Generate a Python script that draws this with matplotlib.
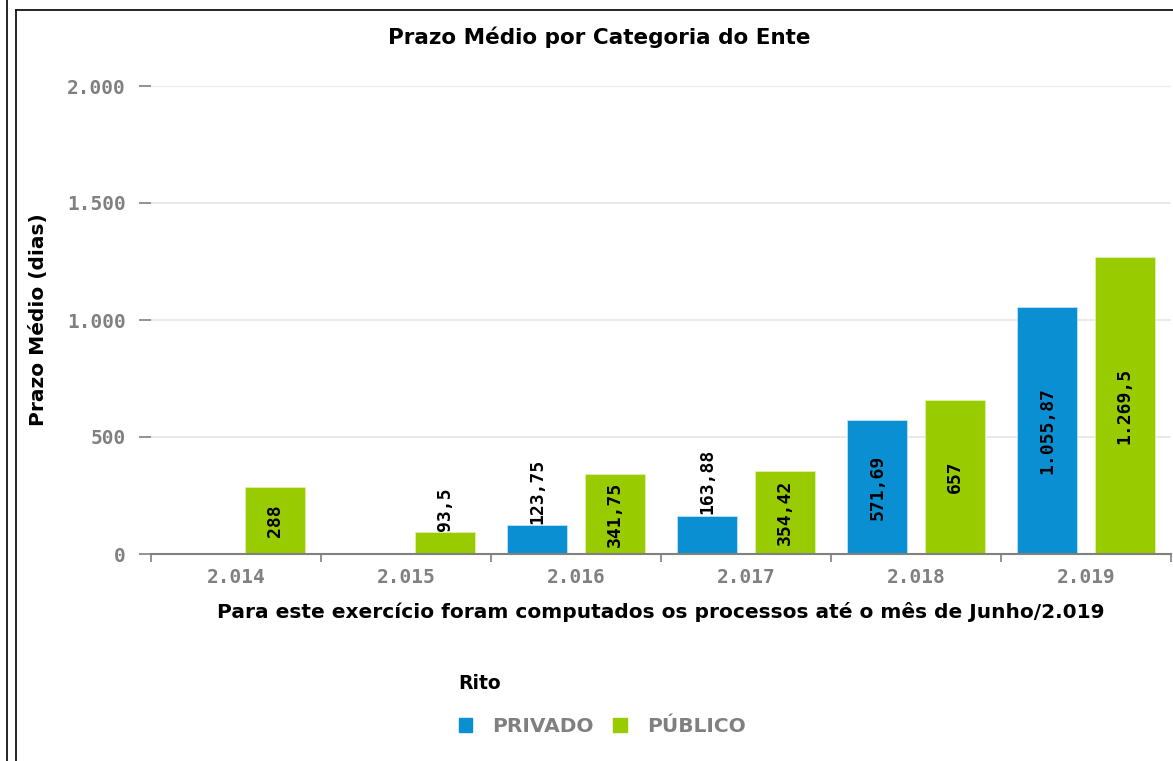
import matplotlib.pyplot as plt
import numpy as np
from matplotlib.lines import Line2D
from matplotlib.patches import Patch

# data
anos = ["2.014", "2.015", "2.016", "2.017", "2.018", "2.019"]
privado = [np.nan, np.nan, 123.75, 163.88, 571.69, 1055.87]
publico = [288, 93.5, 341.75, 354.42, 657, 1269.5]
y_ticks = [0, 500, 1000, 1500, 2000]

COR_PRIVADO = "#0a8fd3"
COR_PUBLICO = "#99cc00"
CINZA = "#808080"


def fmt_br(v):
    """Format number the Brazilian way (1.055,87)."""
    s = f"{v:,.2f}".rstrip("0").rstrip(".")
    return s.replace(",", "#").replace(".", ",").replace("#", ".")


fig = plt.figure(figsize=(11.73, 7.61), dpi=100)
ax = fig.add_axes([151 / 1173, 207 / 761, 1020 / 1173, 468 / 761])

x = np.arange(len(anos))
largura = 0.353
desloc = 0.228

ax.bar(x - desloc, privado, largura, color=COR_PRIVADO,
       edgecolor="#bfe3f5", linewidth=0.6)
ax.bar(x + desloc, publico, largura, color=COR_PUBLICO,
       edgecolor="#dff0a8", linewidth=0.6)

# value labels: inside the bar if it fits, otherwise on top
for pos, vals in ((x - desloc, privado), (x + desloc, publico)):
    for xi, v in zip(pos, vals):
        if np.isnan(v):
            continue
        if v >= 250:
            ax.text(xi, v / 2, fmt_br(v), rotation=90, ha="center", va="center",
                    fontsize=13, fontweight="heavy", family="DejaVu Sans Mono")
        else:
            ax.text(xi, v + 5, fmt_br(v), rotation=90, ha="center", va="bottom",
                    fontsize=13, fontweight="heavy", family="DejaVu Sans Mono")

ax.set_xlim(-0.5, len(anos) - 0.5)
ax.set_ylim(0, 2000)
ax.set_yticks(y_ticks)
ax.set_yticklabels([fmt_br(t) for t in y_ticks], family="DejaVu Sans Mono",
                   fontweight="bold", fontsize=14, color=CINZA)
ax.set_xticks(x)
ax.set_xticklabels(anos, family="DejaVu Sans Mono", fontweight="bold",
                   fontsize=14, color=CINZA)
ax.set_xticks(np.arange(-0.5, len(anos)), minor=True)

ax.tick_params(axis="y", length=9, width=1.2, color=CINZA, pad=9)
ax.tick_params(axis="x", which="major", length=0, pad=10)
ax.tick_params(axis="x", which="minor", length=6, width=1.2, color=CINZA)

ax.grid(axis="y", color="#e6e6e6", linewidth=1.2)
ax.set_axisbelow(True)
for lado in ("top", "right", "left"):
    ax.spines[lado].set_visible(False)
ax.spines["bottom"].set_color(CINZA)
ax.spines["bottom"].set_linewidth(1.5)

ax.set_ylabel("Prazo Médio (dias)", fontsize=14.5, fontweight="bold", labelpad=14)
ax.set_xlabel("Para este exercício foram computados os processos até o mês de Junho/2.019",
              fontsize=14.5, fontweight="bold", labelpad=11)
fig.text(599 / 1173, 1 - 37 / 761, "Prazo Médio por Categoria do Ente",
         ha="center", va="center", fontsize=15.5, fontweight="bold")

handles = [Patch(color=COR_PRIVADO, label="PRIVADO"),
           Patch(color=COR_PUBLICO, label="PÚBLICO")]
leg = fig.legend(handles=handles, loc="center", bbox_to_anchor=(602 / 1173, 1 - 705 / 761),
                 ncol=2, frameon=False, title="Rito", handlelength=0.65,
                 handleheight=0.65, columnspacing=1.0, handletextpad=1.0,
                 labelspacing=1.2, prop={"weight": "bold", "size": 14.5})
leg.get_title().set_fontweight("bold")
leg.get_title().set_fontsize(13.5)
leg._legend_box.align = "left"
for t in leg.get_texts():
    t.set_color(CINZA)

# frame lines of the page around the chart
fig.add_artist(Line2D([7 / 1173, 7 / 1173], [0, 1], color="black", linewidth=1.2))
fig.add_artist(Line2D([16 / 1173, 16 / 1173], [0, 1 - 10 / 761], color="black", linewidth=1.2))
fig.add_artist(Line2D([16 / 1173, 1], [1 - 10 / 761, 1 - 10 / 761], color="black", linewidth=1.2))

fig.savefig("out.png", dpi=100)
